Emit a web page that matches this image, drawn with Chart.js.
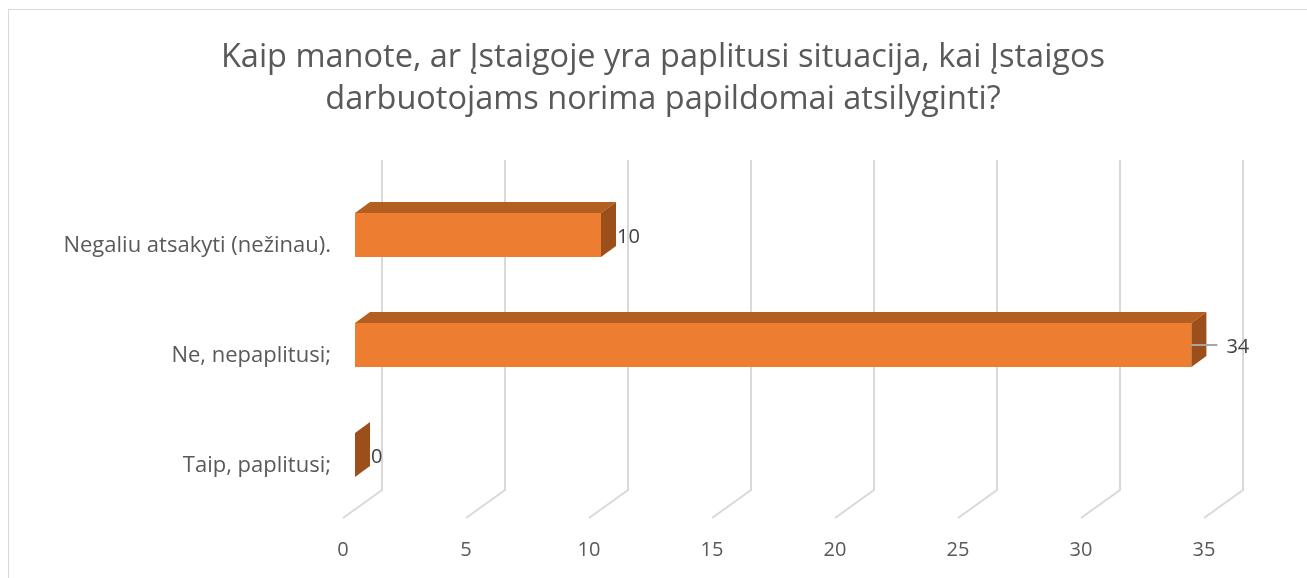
<!DOCTYPE html>
<html>
<head>
<meta charset="utf-8">
<script src="https://cdn.jsdelivr.net/npm/chart.js@4.4.0/dist/chart.umd.min.js"></script>
<style>
  html, body { margin: 0; padding: 0; background: #fff; overflow: hidden; width: 1307px; height: 578px; }
  #wrap { position: absolute; left: 8px; top: 9px; width: 1310px; height: 569px; border-left: 1px solid #d9d9d9; border-top: 1px solid #d9d9d9; box-sizing: border-box; }
  #wrap canvas { position: absolute; left: -1px; top: -1px; }
</style>
</head>
<body>
<div id="wrap"><canvas id="c" width="1310" height="569"></canvas></div>
<script>
const titleLines = ["Kaip manote, ar Įstaigoje yra paplitusi situacija, kai Įstaigos", "darbuotojams norima papildomai atsilyginti?"];
const categories = ["Negaliu atsakyti (nežinau).", "Ne, nepaplitusi;", "Taip, paplitusi;"];
const values = [10, 34, 0];
const axisMin = 0;
const axisMax = 35;
const axisStep = 5;

const FONT = "'Open Sans', Lato, sans-serif";
const DEPTH_X = 15, DEPTH_Y = -11;

const threeD = {
  id: 'threeD',
  beforeDatasetsDraw(chart) {
    const ctx = chart.ctx, xs = chart.scales.x, ca = chart.chartArea;
    ctx.save();
    ctx.strokeStyle = '#d9d9d9';
    ctx.lineWidth = 2;
    for (let v = axisMin; v <= axisMax; v += axisStep) {
      const px = xs.getPixelForValue(v);
      ctx.beginPath();
      ctx.moveTo(px + 27, ca.top - 20);
      ctx.lineTo(px + 27, ca.bottom - 20);
      ctx.lineTo(px - 12, ca.bottom + 8);
      ctx.stroke();
    }
    ctx.restore();
  },
  afterDatasetsDraw(chart) {
    const ctx = chart.ctx;
    const meta = chart.getDatasetMeta(0);
    ctx.save();
    meta.data.forEach((bar, i) => {
      const p = bar.getProps(['x', 'y', 'base', 'height'], true);
      const top = p.y - p.height / 2, bot = p.y + p.height / 2;
      const l = Math.min(p.base, p.x), r = Math.max(p.base, p.x);
      if (r > l) {
        ctx.fillStyle = '#b45f22';
        ctx.beginPath();
        ctx.moveTo(l, top);
        ctx.lineTo(l + DEPTH_X, top + DEPTH_Y);
        ctx.lineTo(r + DEPTH_X, top + DEPTH_Y);
        ctx.lineTo(r, top);
        ctx.closePath();
        ctx.fill();
      }
      ctx.fillStyle = '#9c4f1b';
      ctx.beginPath();
      ctx.moveTo(r, top);
      ctx.lineTo(r + DEPTH_X, top + DEPTH_Y);
      ctx.lineTo(r + DEPTH_X, bot + DEPTH_Y);
      ctx.lineTo(r, bot);
      ctx.closePath();
      ctx.fill();
    });
    const lbl = chart.options.plugins.threeD;
    ctx.font = "20px " + FONT;
    ctx.fillStyle = '#404040';
    ctx.textBaseline = 'middle';
    ctx.textAlign = 'left';
    meta.data.forEach((bar, i) => {
      const p = bar.getProps(['x', 'y'], true);
      const cy = p.y + 2;
      let tx = p.x + DEPTH_X + 1;
      if (i === lbl.leaderIndex) {
        ctx.strokeStyle = '#a6a6a6';
        ctx.lineWidth = 2;
        ctx.beginPath();
        ctx.moveTo(p.x, p.y);
        ctx.lineTo(p.x + lbl.leaderLength, p.y);
        ctx.stroke();
        tx = p.x + lbl.leaderLength + 9;
      }
      ctx.fillText(String(values[i]), tx, cy);
    });
    ctx.restore();
  },
  afterDraw(chart) {
    const ctx = chart.ctx;
    ctx.save();
    ctx.font = "32.5px " + FONT;
    ctx.fillStyle = '#595959';
    ctx.textAlign = 'center';
    ctx.textBaseline = 'middle';
    titleLines.forEach((t, i) => ctx.fillText(t, chart.width / 2, 49 + i * 42));
    ctx.restore();
  }
};

new Chart(document.getElementById('c'), {
  type: 'bar',
  data: {
    labels: categories,
    datasets: [{
      data: values,
      backgroundColor: '#ed7d31',
      borderWidth: 0,
      categoryPercentage: 0.4,
      barPercentage: 1
    }]
  },
  options: {
    indexAxis: 'y',
    responsive: false,
    animation: false,
    devicePixelRatio: 1,
    layout: { padding: { left: 0, right: 102, top: 171, bottom: 0 } },
    plugins: {
      legend: { display: false },
      tooltip: { enabled: false },
      title: { display: false },
      threeD: { leaderIndex: 1, leaderLength: 26 }
    },
    scales: {
      x: {
        type: 'linear',
        min: axisMin,
        max: axisMax,
        ticks: {
          stepSize: axisStep,
          color: '#595959',
          font: { family: FONT, size: 20 },
          padding: 28,
          labelOffset: -12,
          maxRotation: 0
        },
        grid: { display: false, drawTicks: false },
        border: { display: false },
        afterFit(s) { s.height = 68; }
      },
      y: {
        ticks: {
          color: '#595959',
          font: { family: FONT, size: 22 },
          padding: 24,
          labelOffset: 11
        },
        grid: { display: false, drawTicks: false },
        border: { display: false },
        afterFit(s) { s.width = 347; }
      }
    }
  },
  plugins: [threeD]
});
</script>
</body>
</html>
